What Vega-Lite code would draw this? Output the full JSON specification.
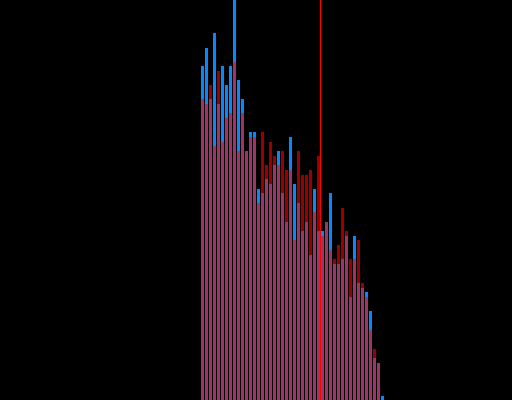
{
  "$schema": "https://vega.github.io/schema/vega-lite/v6.json",
  "width": 512,
  "height": 400,
  "padding": 0,
  "autosize": "none",
  "background": "black",
  "config": {"view": {"stroke": null}},
  "datasets": {
    "bins": [
      {"lo": 50, "hi": 51, "blue": 334, "red": 301},
      {"lo": 51, "hi": 52, "blue": 352, "red": 296},
      {"lo": 52, "hi": 53, "blue": 301, "red": 315},
      {"lo": 53, "hi": 54, "blue": 367, "red": 254},
      {"lo": 54, "hi": 55, "blue": 296, "red": 329},
      {"lo": 55, "hi": 56, "blue": 334, "red": 258},
      {"lo": 56, "hi": 57, "blue": 315, "red": 282},
      {"lo": 57, "hi": 58, "blue": 334, "red": 287},
      {"lo": 58, "hi": 59, "blue": 400, "red": 338},
      {"lo": 59, "hi": 60, "blue": 320, "red": 249},
      {"lo": 60, "hi": 61, "blue": 301, "red": 287},
      {"lo": 61, "hi": 62, "blue": 249, "red": 249},
      {"lo": 62, "hi": 63, "blue": 268, "red": 263},
      {"lo": 63, "hi": 64, "blue": 268, "red": 263},
      {"lo": 64, "hi": 65, "blue": 211, "red": 197},
      {"lo": 65, "hi": 66, "blue": 207, "red": 268},
      {"lo": 66, "hi": 67, "blue": 221, "red": 235},
      {"lo": 67, "hi": 68, "blue": 216, "red": 258},
      {"lo": 68, "hi": 69, "blue": 235, "red": 244},
      {"lo": 69, "hi": 70, "blue": 249, "red": 235},
      {"lo": 70, "hi": 71, "blue": 207, "red": 249},
      {"lo": 71, "hi": 72, "blue": 178, "red": 230},
      {"lo": 72, "hi": 73, "blue": 263, "red": 230},
      {"lo": 73, "hi": 74, "blue": 216, "red": 160},
      {"lo": 74, "hi": 75, "blue": 197, "red": 249},
      {"lo": 75, "hi": 76, "blue": 169, "red": 225},
      {"lo": 76, "hi": 77, "blue": 178, "red": 225},
      {"lo": 77, "hi": 78, "blue": 145, "red": 230},
      {"lo": 78, "hi": 79, "blue": 211, "red": 188},
      {"lo": 79, "hi": 80, "blue": 169, "red": 244},
      {"lo": 80, "hi": 81, "blue": 169, "red": 164},
      {"lo": 81, "hi": 82, "blue": 178, "red": 178},
      {"lo": 82, "hi": 83, "blue": 207, "red": 150},
      {"lo": 83, "hi": 84, "blue": 136, "red": 141},
      {"lo": 84, "hi": 85, "blue": 136, "red": 155},
      {"lo": 85, "hi": 86, "blue": 141, "red": 192},
      {"lo": 86, "hi": 87, "blue": 164, "red": 169},
      {"lo": 87, "hi": 88, "blue": 103, "red": 141},
      {"lo": 88, "hi": 89, "blue": 164, "red": 141},
      {"lo": 89, "hi": 90, "blue": 117, "red": 160},
      {"lo": 90, "hi": 91, "blue": 112, "red": 117},
      {"lo": 91, "hi": 92, "blue": 108, "red": 103},
      {"lo": 92, "hi": 93, "blue": 89, "red": 70},
      {"lo": 93, "hi": 94, "blue": 42, "red": 51},
      {"lo": 94, "hi": 95, "blue": 37, "red": 37},
      {"lo": 95, "hi": 96, "blue": 4, "red": 0}
    ],
    "marker": [{"value": 80.125}]
  },
  "layer": [
    {
      "data": {"name": "bins"},
      "mark": {"type": "bar", "color": "#0a86ff", "binSpacing": 1},
      "encoding": {
        "x": {"field": "lo", "type": "quantitative", "bin": "binned", "scale": {"domain": [0, 128], "nice": false, "zero": false}, "axis": null},
        "x2": {"field": "hi"},
        "y": {"field": "blue", "type": "quantitative", "scale": {"domain": [0, 400], "nice": false}, "axis": null}
      }
    },
    {
      "data": {"name": "bins"},
      "mark": {"type": "bar", "color": "#ff0000", "opacity": 0.6, "binSpacing": 1},
      "encoding": {
        "x": {"field": "lo", "type": "quantitative", "bin": "binned"},
        "x2": {"field": "hi"},
        "y": {"field": "red", "type": "quantitative"}
      }
    },
    {
      "data": {"name": "marker"},
      "mark": {"type": "rule", "color": "#ff0000", "strokeWidth": 1},
      "encoding": {
        "x": {"field": "value", "type": "quantitative"}
      }
    }
  ]
}
